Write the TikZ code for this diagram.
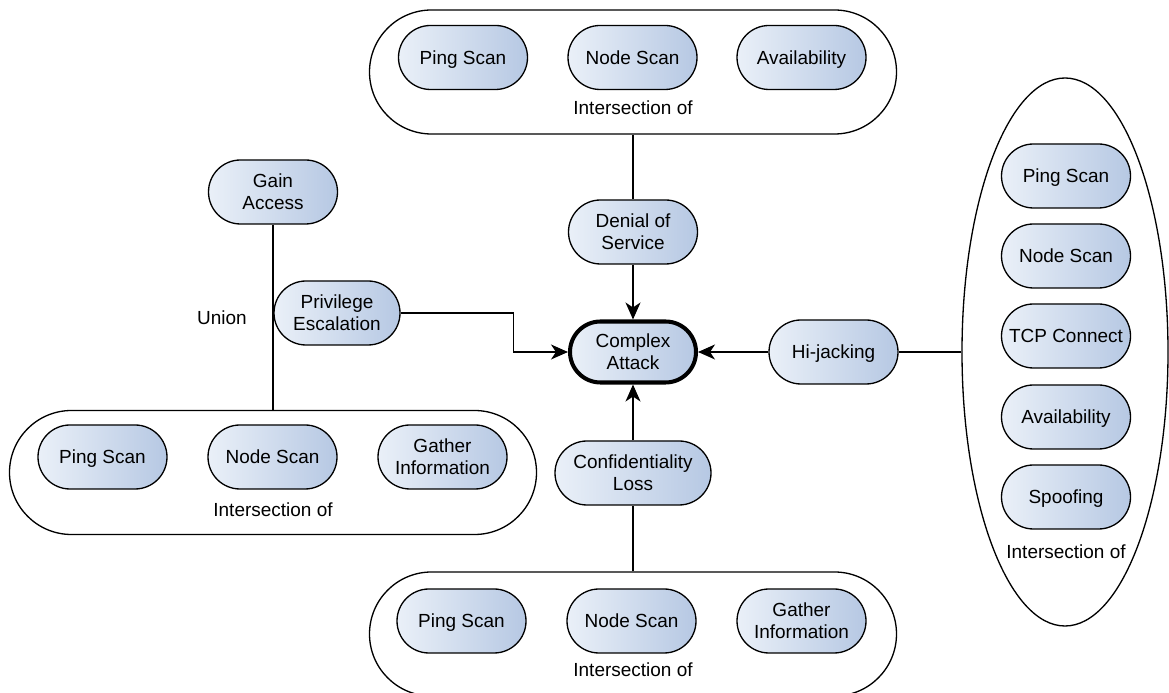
\documentclass[tikz,border=0pt]{standalone}
\usepackage{fontspec}
\setmainfont{Liberation Sans}
\usepackage{xcolor}
\definecolor{oplight}{RGB}{234,240,248}
\definecolor{opdark}{RGB}{182,200,227}
\usetikzlibrary{arrows.meta,positioning,shapes.geometric}

\begin{document}
\begin{tikzpicture}[every node/.style={font=\fontsize{10.8}{12.5}\selectfont},
  op/.style={rectangle, rounded corners=0.64cm, draw, line width=0.75pt, left color=oplight, right color=opdark, minimum width=2.58cm, minimum height=1.28cm, align=center, inner xsep=1pt},
  lone/.style={op, text height=7.7pt, text depth=0pt},
  grp/.style={rectangle, rounded corners=1.24cm, draw, line width=0.75pt, minimum width=10.54cm, minimum height=2.48cm},
  arr/.style={-{Stealth[length=0.34cm,width=0.3cm,inset=0.1cm]}, line width=0.75pt}]
\useasboundingbox (0,0) rectangle (23.38,13.86);
% Complex attack
\node[op, line width=2.3pt, minimum width=2.52cm, minimum height=1.22cm, rounded corners=0.61cm] (attack) at (12.66,6.82) {Complex\\Attack};
% Denial of service
\node[grp] (dosgrp) at (12.66,12.42) {};
\node[lone] (dosPing) at (9.26,12.71) {Ping Scan};
\node[lone] (dosNode) at (12.65,12.71) {Node Scan};
\node[lone] (dosAvail) at (16.03,12.71) {Availability};
\node (dosLbl) at (12.66,11.70) {Intersection of};
\node[op] (dos) at (12.66,9.22) {Denial of\\Service};
% Privilege escalation
\node[op] (gain) at (5.46,10.02) {Gain\\Access};
\node[op, minimum width=2.52cm] (priv) at (6.74,7.60) {Privilege\\Escalation};
\node (union) at (4.44,7.50) {Union};
\node[grp] (pegrp) at (5.46,4.41) {};
\node[lone] (pePing) at (2.05,4.72) {Ping Scan};
\node[lone] (peNode) at (5.45,4.72) {Node Scan};
\node[op] (peGather) at (8.85,4.72) {Gather\\Information};
\node (peLbl) at (5.46,3.66) {Intersection of};
% Confidentiality loss
\node[op, minimum width=3.12cm] (conf) at (12.66,4.40) {Confidentiality\\Loss};
\node[grp] (clgrp) at (12.66,1.18) {};
\node[lone] (clPing) at (9.23,1.44) {Ping Scan};
\node[lone] (clNode) at (12.63,1.44) {Node Scan};
\node[op] (clGather) at (16.03,1.44) {Gather\\Information};
\node (clLbl) at (12.66,0.46) {Intersection of};
% Hi-jacking
\node[lone] (hijack) at (16.67,6.82) {Hi-jacking};
\node[ellipse, draw, line width=0.75pt, minimum width=4.12cm, minimum height=10.96cm] (hjgrp) at (21.30,6.82) {};
\node[lone] (hjPing) at (21.32,10.34) {Ping Scan};
\node[lone] (hjNode) at (21.32,8.74) {Node Scan};
\node[lone] (hjTcp) at (21.32,7.14) {TCP Connect};
\node[lone] (hjAvail) at (21.32,5.52) {Availability};
\node[lone] (hjSpoof) at (21.32,3.92) {Spoofing};
\node (hjLbl) at (21.32,2.82) {Intersection of};
% Arrows
\draw[line width=0.75pt] (dosgrp) -- (dos);
\draw[arr] (dos) -- (attack);
\draw[line width=0.75pt] (gain) -- (pegrp);
\draw[arr] (priv.east) -- ++(2.26,0) |- (attack.west);
\draw[line width=0.75pt] (clgrp) -- (conf);
\draw[arr] (conf) -- (attack);
\draw[line width=0.75pt] (hjgrp) -- (hijack);
\draw[arr] (hijack) -- (attack);
\end{tikzpicture}
\end{document}
